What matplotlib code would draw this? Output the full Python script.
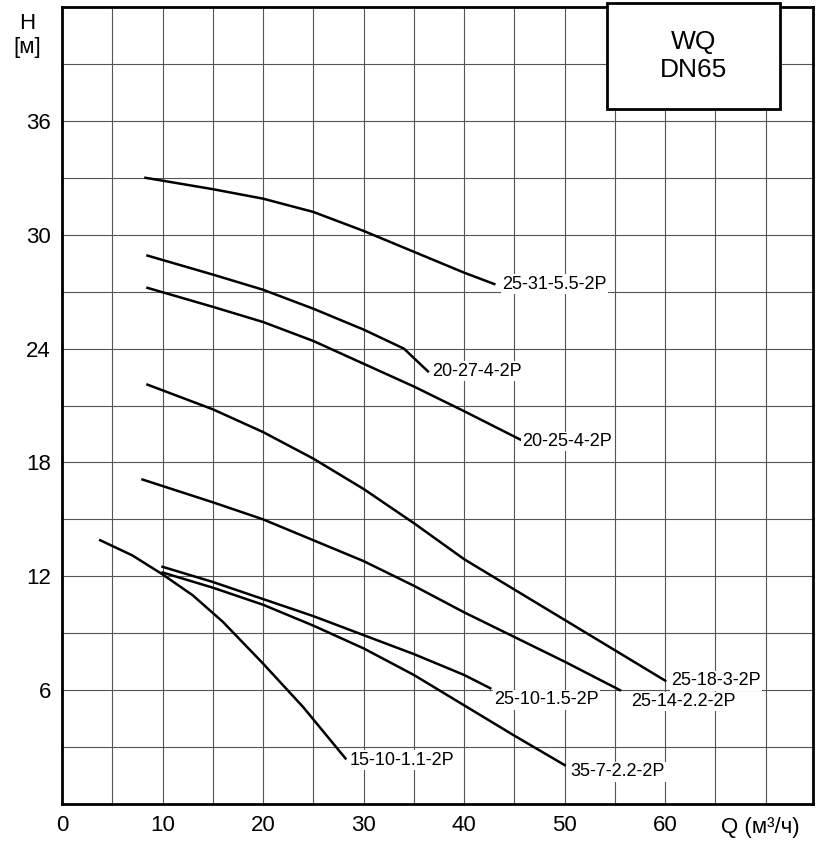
import matplotlib.pyplot as plt
from matplotlib.patches import Rectangle

plt.rcParams["font.family"] = ["Liberation Sans", "DejaVu Sans"]

# curve points (Q in m3/h, H in m)
q_31 = [8.3, 15, 20, 25, 30, 35, 40, 43]
h_31 = [33.0, 32.4, 31.9, 31.2, 30.2, 29.1, 28.0, 27.4]
q_27 = [8.5, 15, 20, 25, 30, 34, 36.4]
h_27 = [28.9, 27.9, 27.1, 26.1, 25.0, 24.0, 22.8]
q_25 = [8.5, 15, 20, 25, 30, 35, 40, 45.6]
h_25 = [27.2, 26.2, 25.4, 24.4, 23.2, 22.0, 20.7, 19.2]
q_18 = [8.5, 15, 20, 25, 30, 35, 40, 45, 50, 55, 60]
h_18 = [22.1, 20.8, 19.6, 18.2, 16.6, 14.8, 12.9, 11.3, 9.7, 8.1, 6.5]
q_14 = [8.0, 15, 20, 25, 30, 35, 40, 45, 50, 55.5]
h_14 = [17.1, 15.9, 15.0, 13.9, 12.8, 11.5, 10.1, 8.8, 7.5, 6.0]
q_10 = [10, 15, 20, 25, 30, 35, 40, 42.6]
h_10 = [12.5, 11.7, 10.8, 9.9, 8.9, 7.9, 6.8, 6.1]
q_7 = [10, 15, 20, 25, 30, 35, 40, 45, 50]
h_7 = [12.2, 11.4, 10.5, 9.4, 8.2, 6.8, 5.2, 3.6, 2.05]
q_11 = [3.8, 7, 10, 13, 16, 20, 24, 28.2]
h_11 = [13.9, 13.1, 12.1, 11.0, 9.6, 7.4, 5.1, 2.4]

curves = [
    (q_31, h_31, "25-31-5.5-2P", (43.8, 27.4)),
    (q_27, h_27, "20-27-4-2P", (36.8, 22.8)),
    (q_25, h_25, "20-25-4-2P", (45.8, 19.1)),
    (q_18, h_18, "25-18-3-2P", (60.6, 6.5)),
    (q_14, h_14, "25-14-2.2-2P", (56.6, 5.4)),
    (q_10, h_10, "25-10-1.5-2P", (43.0, 5.5)),
    (q_7, h_7, "35-7-2.2-2P", (50.6, 1.7)),
    (q_11, h_11, "15-10-1.1-2P", (28.6, 2.3)),
]

fig = plt.figure(figsize=(8.16, 8.58), dpi=100)
ax = fig.add_axes([62 / 816, 54 / 858, 751 / 816, 797 / 858])
ax.set_xlim(0, 74.7)
ax.set_ylim(0, 42)
ax.set_xticks(range(0, 75, 5))
ax.set_yticks(range(0, 42, 3))
ax.grid(True, color="#555555", linewidth=0.8)
ax.set_xticklabels([str(v) if v % 10 == 0 and v <= 60 else "" for v in range(0, 75, 5)], fontsize=16)
ax.set_yticklabels([str(v) if v % 6 == 0 and v > 0 else "" for v in range(0, 42, 3)], fontsize=16)
ax.tick_params(length=0, pad=8)
for s in ax.spines.values():
    s.set_linewidth(2)

for qs, hs, name, pos in curves:
    ax.plot(qs, hs, color="black", linewidth=1.8)
    ax.text(pos[0], pos[1], name, fontsize=13, va="center", ha="left",
            bbox=dict(facecolor="white", edgecolor="none", pad=1))

ax.text(65.5, -1.25, "Q (м³/ч)", fontsize=16, ha="left", va="center", clip_on=False)
ax.text(-3.5, 40.5, "H\n[м]", fontsize=16, ha="center", va="center", clip_on=False)

ax.add_patch(Rectangle((54.2, 36.6), 17.2, 5.6, facecolor="white", edgecolor="black",
                       linewidth=2, zorder=3, clip_on=False))
ax.text(62.8, 39.4, "WQ\nDN65", fontsize=19, ha="center", va="center", zorder=4)

fig.savefig("out.png", dpi=100)
